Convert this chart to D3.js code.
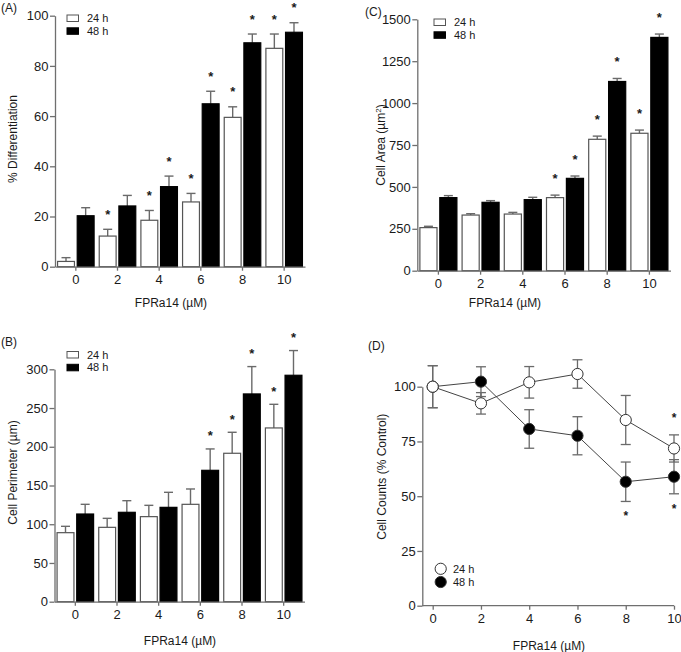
<!DOCTYPE html>
<html>
<head>
<meta charset="utf-8">
<script src="https://cdn.jsdelivr.net/npm/d3@7"></script>
<style>
  html, body { margin: 0; padding: 0; background: #fff; }
  svg { display: block; font-family: "Liberation Sans", Arial, sans-serif; }
</style>
</head>
<body>
<svg id="chart" width="681" height="652"></svg>
<script>
// ---------- DATA ----------
const doses = ["0", "2", "4", "6", "8", "10"];
const doseValues = [0, 2, 4, 6, 8, 10];
const seriesNames = ["24 h", "48 h"];

// (A) % Differentiation
const diff24 = [2.1, 12.2, 18.5, 25.8, 59.5, 87.0];
const diff24Err = [1.5, 2.7, 3.9, 3.4, 4.2, 5.7];
const diff48 = [20.3, 24.2, 31.9, 64.9, 89.2, 93.4];
const diff48Err = [3.2, 4.2, 4.2, 5.0, 3.5, 3.8];
const diffSig24 = [false, true, true, true, true, true];
const diffSig48 = [false, false, true, true, true, true];
const diffTicks = [0, 20, 40, 60, 80, 100];

// (B) Cell Perimeter (µm)
const perim24 = [89.1, 96.0, 109.8, 125.7, 191.6, 224.3];
const perim24Err = [8.2, 11.6, 14.6, 19.8, 27.1, 30.5];
const perim48 = [113.2, 115.4, 121.8, 169.6, 268.2, 292.3];
const perim48Err = [12.5, 15.0, 19.4, 27.6, 35.3, 31.9];
const perimSig24 = [false, false, false, false, true, true];
const perimSig48 = [false, false, false, true, true, true];
const perimTicks = [0, 50, 100, 150, 200, 250, 300];

// (C) Cell Area (µm²)
const area24 = [257, 332, 338, 436, 784, 820];
const area24Err = [8, 8, 10, 15, 19, 19];
const area48 = [436, 408, 424, 551, 1129, 1392];
const area48Err = [12, 10, 14, 14, 18, 20];
const areaSig24 = [false, false, false, true, true, true];
const areaSig48 = [false, false, false, true, true, true];
const areaTicks = [0, 250, 500, 750, 1000, 1250, 1500];

// (D) Cell Counts (% Control)
const count24 = [100, 92.4, 102, 105.8, 84.8, 71.8];
const count24Err = [9.6, 4.9, 7.2, 6.5, 11.2, 6.2];
const count48 = [100, 102.3, 80.7, 77.6, 56.6, 58.9];
const count48Err = [9.6, 6.8, 8.8, 8.7, 9.0, 7.8];
const countSig24 = [false, false, false, false, false, true];
const countSig48 = [false, false, false, false, true, true];
const countTicks = [0, 25, 50, 75, 100];
const countXTicks = [0, 2, 4, 6, 8, 10];

// ---------- STYLE ----------
const AXIS = "#6f6f6f";
const ERR = "#6a6a6a";
const TXT = "#1a1a1a";
const svg = d3.select("#chart");

function styleAxis(g) {
  g.selectAll("path.domain").attr("stroke", AXIS).attr("stroke-width", 1.3);
  g.selectAll(".tick line").attr("stroke", AXIS).attr("stroke-width", 1.3);
  g.selectAll(".tick text").attr("fill", TXT).style("font-size", "13px")
    .style("font-family", '"Liberation Sans", Arial, sans-serif');
}

function star(g, x, y, size) {
  g.append("text").attr("x", x).attr("y", y + size * 0.58)
    .attr("text-anchor", "middle").attr("fill", TXT)
    .style("font-size", size + "px").style("font-weight", "bold").text("*");
}

function drawBarPanel(c) {
  const g = svg.append("g");
  const x = d3.scaleBand().domain(doses).range([c.left, c.right]);
  const xi = d3.scaleBand().domain(seriesNames).range([0, x.bandwidth()])
    .paddingInner(0.08).paddingOuter(0.1);
  const y = d3.scaleLinear().domain([0, c.yMax]).range([c.bottom, c.top]);

  const s24 = { name: "24 h", v: c.v24, e: c.e24, sig: c.s24, fill: "#fff" };
  const s48 = { name: "48 h", v: c.v48, e: c.e48, sig: c.s48, fill: "#000" };
  [s24, s48].forEach(s => {
    doses.forEach((d, i) => {
      const bx = x(d) + xi(s.name);
      const bw = xi.bandwidth();
      const cx = bx + bw / 2;
      const top = y(s.v[i] + s.e[i]);
      // error bar
      g.append("line").attr("x1", cx).attr("x2", cx)
        .attr("y1", y(s.v[i])).attr("y2", top)
        .attr("stroke", ERR).attr("stroke-width", 1.4);
      g.append("line").attr("x1", cx - 4.5).attr("x2", cx + 4.5)
        .attr("y1", top).attr("y2", top)
        .attr("stroke", ERR).attr("stroke-width", 1.4);
      // bar
      g.append("rect").attr("x", bx + 0.6).attr("width", bw - 1.2)
        .attr("y", y(s.v[i])).attr("height", c.bottom - y(s.v[i]))
        .attr("fill", s.fill)
        .attr("stroke", s.fill === "#000" ? "#000" : "#555")
        .attr("stroke-width", 1.2);
      if (s.sig[i]) star(g, cx, top - c.starOff, 13);
    });
  });

  const gx = g.append("g").attr("transform", `translate(0,${c.bottom})`)
    .call(d3.axisBottom(x).tickSizeInner(4).tickSizeOuter(0).tickPadding(4.5));
  styleAxis(gx);
  const gy = g.append("g").attr("transform", `translate(${c.left},0)`)
    .call(d3.axisLeft(y).tickValues(c.ticks).tickFormat(d3.format("d"))
      .tickSizeInner(5).tickSizeOuter(0).tickPadding(1.5));
  styleAxis(gy);

  // legend
  const lg = g.append("g");
  [["24 h", "#fff", "#555"], ["48 h", "#000", "#000"]].forEach((L, k) => {
    const ly = c.legY + k * 12.8;
    lg.append("rect").attr("x", c.legX).attr("y", ly).attr("width", 11.5).attr("height", 6.5)
      .attr("fill", L[1]).attr("stroke", L[2]).attr("stroke-width", 1);
    lg.append("text").attr("x", c.legX + 20).attr("y", ly + 3.3).attr("dy", "0.35em")
      .attr("fill", TXT).style("font-size", "11px").text(L[0]);
  });

  // titles
  const yt = g.append("text")
    .attr("transform", `translate(${c.yTitleX},${c.yTitleY}) rotate(-90)`)
    .attr("text-anchor", "middle").attr("dy", "0.35em").attr("fill", TXT)
    .style("font-size", "12px");
  if (c.yTitleSup) {
    yt.append("tspan").text(c.yTitle);
    yt.append("tspan").attr("baseline-shift", "super").style("font-size", "8px").text(c.yTitleSup);
    yt.append("tspan").text(")");
  } else {
    yt.text(c.yTitle);
  }
  g.append("text").attr("x", c.xTitleX).attr("y", c.xTitleY).attr("dy", "0.35em")
    .attr("text-anchor", "middle").attr("fill", TXT).style("font-size", "12px")
    .text("FPRa14 (µM)");
  g.append("text").attr("x", c.labX).attr("y", c.labY).attr("fill", TXT)
    .style("font-size", "12px").text(c.label);
}

drawBarPanel({
  left: 55, right: 305, top: 15.7, bottom: 266.7, yMax: 100, ticks: diffTicks,
  v24: diff24, e24: diff24Err, v48: diff48, e48: diff48Err, s24: diffSig24, s48: diffSig48,
  starOff: 18, legX: 67, legY: 15, yTitle: "% Differentiation", yTitleX: 13, yTitleY: 139,
  xTitleX: 171, xTitleY: 303, label: "(A)", labX: 1, labY: 11.5
});

drawBarPanel({
  left: 54.5, right: 304.5, top: 369.3, bottom: 601.7, yMax: 300, ticks: perimTicks,
  v24: perim24, e24: perim24Err, v48: perim48, e48: perim48Err, s24: perimSig24, s48: perimSig48,
  starOff: 16, legX: 67, legY: 351.5, yTitle: "Cell Perimeter (µm)", yTitleX: 12.5, yTitleY: 472.5,
  xTitleX: 180, xTitleY: 641, label: "(B)", labX: 1, labY: 346
});

drawBarPanel({
  left: 417.3, right: 670.5, top: 19.3, bottom: 270.7, yMax: 1500, ticks: areaTicks,
  v24: area24, e24: area24Err, v48: area48, e48: area48Err, s24: areaSig24, s48: areaSig48,
  starOff: 20, legX: 434, legY: 19, yTitle: "Cell Area (µm", yTitleSup: "2", yTitleX: 381, yTitleY: 145,
  xTitleX: 505, xTitleY: 303, label: "(C)", labX: 365, labY: 16
});

// ---------- (D) line chart ----------
(function () {
  const g = svg.append("g");
  const left = 422.3, right = 674, top = 386.7, bottom = 605.7;
  const x = d3.scaleLinear().domain([0, 10]).range([432.7, 674]);
  const y = d3.scaleLinear().domain([0, 100]).range([bottom, top]);

  const gx = g.append("g").attr("transform", `translate(0,${bottom})`)
    .call(d3.axisBottom(x).tickValues(countXTicks).tickFormat(d3.format("d"))
      .tickSizeInner(4).tickSizeOuter(0).tickPadding(4.5));
  gx.select("path.domain").remove();
  gx.append("line").attr("x1", left).attr("x2", right).attr("y1", 0).attr("y2", 0)
    .attr("stroke", AXIS).attr("stroke-width", 1.3);
  styleAxis(gx);
  const gy = g.append("g").attr("transform", `translate(${left},0)`)
    .call(d3.axisLeft(y).tickValues(countTicks).tickFormat(d3.format("d"))
      .tickSizeInner(5).tickSizeOuter(0).tickPadding(1.5));
  styleAxis(gy);

  const series = [
    { v: count48, e: count48Err, sig: count48Sig(), fill: "#000", below: true },
    { v: count24, e: count24Err, sig: countSig24, fill: "#fff", below: false }
  ];
  function count48Sig() { return countSig48; }

  const line = d3.line().x((d, i) => x(doseValues[i])).y(d => y(d));
  series.forEach(s => {
    g.append("path").attr("d", line(s.v)).attr("fill", "none")
      .attr("stroke", "#444").attr("stroke-width", 1);
  });
  series.forEach(s => {
    s.v.forEach((v, i) => {
      const cx = x(doseValues[i]);
      const y1 = y(v + s.e[i]), y2 = y(v - s.e[i]);
      g.append("line").attr("x1", cx).attr("x2", cx).attr("y1", y1).attr("y2", y2)
        .attr("stroke", ERR).attr("stroke-width", 1.3);
      [y1, y2].forEach(yy => g.append("line").attr("x1", cx - 5).attr("x2", cx + 5)
        .attr("y1", yy).attr("y2", yy).attr("stroke", ERR).attr("stroke-width", 1.3));
    });
  });
  series.forEach(s => {
    s.v.forEach((v, i) => {
      const cx = x(doseValues[i]);
      g.append("circle").attr("cx", cx).attr("cy", y(v)).attr("r", 5.6)
        .attr("fill", s.fill).attr("stroke", "#333").attr("stroke-width", 1);
      if (s.sig[i]) {
        if (s.below) star(g, cx, y(v - s.e[i]) + 12, 12);
        else star(g, cx, y(v + s.e[i]) - 20, 12);
      }
    });
  });

  // legend
  [["24 h", "#fff"], ["48 h", "#000"]].forEach((L, k) => {
    const ly = 568.8 + k * 13.2;
    g.append("circle").attr("cx", 440.7).attr("cy", ly).attr("r", 5.6)
      .attr("fill", L[1]).attr("stroke", "#333").attr("stroke-width", 1);
    g.append("text").attr("x", 453).attr("y", ly).attr("dy", "0.35em")
      .attr("fill", TXT).style("font-size", "11px").text(L[0]);
  });

  g.append("text")
    .attr("transform", `translate(381.7,476.7) rotate(-90)`)
    .attr("text-anchor", "middle").attr("dy", "0.35em").attr("fill", TXT)
    .style("font-size", "12px").text("Cell Counts (% Control)");
  g.append("text").attr("x", 549).attr("y", 646).attr("dy", "0.35em")
    .attr("text-anchor", "middle").attr("fill", TXT).style("font-size", "12px")
    .text("FPRa14 (µM)");
  g.append("text").attr("x", 368).attr("y", 350).attr("fill", TXT)
    .style("font-size", "12px").text("(D)");
})();
</script>
</body>
</html>
